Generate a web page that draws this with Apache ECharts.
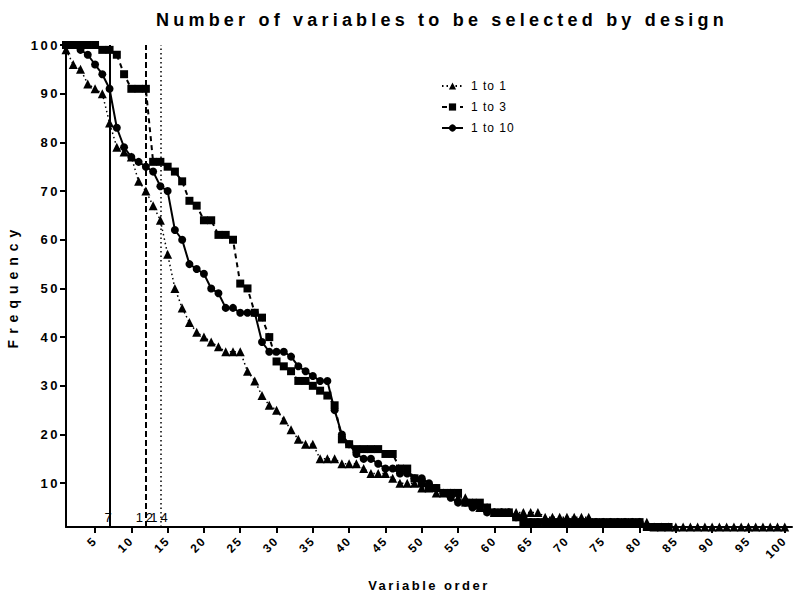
<!DOCTYPE html>
<html>
<head>
<meta charset="utf-8">
<script src="https://cdn.jsdelivr.net/npm/echarts@6/dist/echarts.min.js"></script>
<style>
html, body { margin: 0; padding: 0; background: #fff; }
#chart { width: 800px; height: 598px; }
/* wide Prism-style lettering */
#chart text[style*="18px"] { letter-spacing: 4.2px; }
#chart text[style*="bold"][style*="13px"] { letter-spacing: 2.5px; }
#chart text[style*="bold"][style*="14px"] { letter-spacing: 6px; }
#chart text[style*="bold"][style*="12px"] { letter-spacing: 1.5px; }
#chart text[style*="13px"]:not([style*="bold"]) { letter-spacing: 3px; }
#chart text[style*="12px"]:not([style*="bold"]) { letter-spacing: 1px; }
</style>
</head>
<body>
<div id="chart"></div>
<script>
// frequencies, ordered by variable (x = 1, 2, 3 ...)
var oneToOne = [
  99, 96, 95, 92, 91, 90, 84, 79, 78, 77,
  72, 70, 67, 64, 57, 50, 46, 43, 41, 40,
  39, 38, 37, 37, 37, 33, 31, 28, 26, 25,
  23, 21, 19, 18, 18, 15, 15, 15, 14, 14,
  14, 13, 12, 12, 12, 11, 10, 10, 10, 9,
  9, 8, 8, 8, 7, 7, 6, 5, 5, 4,
  4, 4, 4, 4, 4, 4, 3, 3, 3, 3,
  3, 3, 3, 2, 2, 2, 2, 2, 2, 2,
  2, 1, 1, 1, 1, 1, 1, 1, 1, 1,
  1, 1, 1, 1, 1, 1, 1, 1, 1, 1
];
var oneToThree = [
  100, 100, 100, 100, 100, 99, 99, 98, 94, 91,
  91, 91, 76, 76, 75, 74, 72, 68, 67, 64,
  64, 61, 61, 60, 51, 50, 45, 44, 40, 35,
  34, 33, 31, 31, 30, 29, 28, 26, 19, 18,
  17, 17, 17, 17, 16, 16, 13, 13, 11, 10,
  9, 9, 8, 8, 8, 6, 6, 6, 5, 4,
  4, 4, 3, 2, 2, 2, 2, 2, 2, 2,
  2, 2, 2, 2, 2, 2, 2, 2, 2, 2,
  1, 1, 1, 1
];
var oneToTen = [
  100, 100, 99, 98, 96, 94, 91, 83, 79, 77,
  76, 75, 74, 71, 70, 62, 60, 55, 54, 53,
  50, 49, 46, 46, 45, 45, 45, 39, 37, 37,
  37, 36, 34, 33, 32, 31, 31, 25, 20, 18,
  16, 15, 15, 14, 13, 13, 12, 12, 11, 11,
  10, 9, 8, 7, 6, 6, 5, 5, 4, 4,
  4, 4, 3, 3, 2, 2, 2, 2, 2, 2,
  2, 2, 2, 2, 2, 2, 2, 2, 2, 2,
  1, 1, 1, 1
];
var seriesNames = ['1 to 1', '1 to 3', '1 to 10'];
var cutoffs = [7, 12, 14];
var xTicks = [5, 10, 15, 20, 25, 30, 35, 40, 45, 50, 55, 60, 65, 70, 75, 80, 85, 90, 95, 100];
var yTicks = [10, 20, 30, 40, 50, 60, 70, 80, 90, 100];

var FONT = '"Liberation Sans", Arial, sans-serif';

function toPoints(arr) {
  return arr.map(function (v, i) { return [i + 1, v]; });
}

var chart = echarts.init(document.getElementById('chart'), null, { renderer: 'svg' });

var option = {
  backgroundColor: '#fff',
  animation: false,
  title: {
    text: 'Number of variables to be selected by design',
    left: 437,
    top: 6,
    textAlign: 'center',
    textStyle: { fontFamily: FONT, fontSize: 18, fontWeight: 'bold', color: '#000' }
  },
  legend: {
    data: seriesNames,
    orient: 'vertical',
    left: 436,
    top: 75,
    itemWidth: 21,
    itemHeight: 9,
    itemGap: 9,
    textStyle: { fontFamily: FONT, fontSize: 12, color: '#000', padding: [0, 0, 0, 3] }
  },
  grid: { left: 66, right: 8, top: 45, bottom: 71, outerBoundsMode: 'none' },
  xAxis: {
    type: 'value',
    min: 1,
    max: 101,
    name: 'Variable order',
    nameLocation: 'middle',
    nameGap: 52,
    nameTextStyle: { fontFamily: FONT, fontSize: 13, fontWeight: 'bold', color: '#000' },
    axisLine: { lineStyle: { color: '#000', width: 2 } },
    axisTick: { customValues: xTicks, length: 6, lineStyle: { color: '#000', width: 2 } },
    axisLabel: {
      customValues: xTicks,
      rotate: 45,
      margin: 12,
      fontFamily: FONT, fontSize: 12, fontWeight: 'bold', color: '#000'
    },
    splitLine: { show: false }
  },
  yAxis: {
    type: 'value',
    min: 1,
    max: 100,
    name: 'Frequency',
    nameLocation: 'middle',
    nameGap: 46,
    nameTextStyle: { fontFamily: FONT, fontSize: 14, fontWeight: 'bold', color: '#000' },
    axisLine: { show: true, lineStyle: { color: '#000', width: 2 } },
    axisTick: { show: true, customValues: yTicks, length: 6, lineStyle: { color: '#000', width: 2 } },
    axisLabel: {
      customValues: yTicks,
      margin: 6,
      fontFamily: FONT, fontSize: 13, fontWeight: 'bold', color: '#000'
    },
    splitLine: { show: false }
  },
  series: [
    {
      name: seriesNames[0],
      type: 'line',
      data: toPoints(oneToOne),
      symbol: 'triangle',
      symbolSize: 9,
      showAllSymbol: true,
      itemStyle: { color: '#000' },
      lineStyle: { color: '#000', width: 1.5, type: [1.5, 3] }
    },
    {
      name: seriesNames[1],
      type: 'line',
      data: toPoints(oneToThree),
      symbol: 'rect',
      symbolSize: 8,
      showAllSymbol: true,
      itemStyle: { color: '#000' },
      lineStyle: { color: '#000', width: 2, type: [5, 4] }
    },
    {
      name: seriesNames[2],
      type: 'line',
      data: toPoints(oneToTen),
      symbol: 'circle',
      symbolSize: 8,
      showAllSymbol: true,
      itemStyle: { color: '#000' },
      lineStyle: { color: '#000', width: 2, type: 'solid' },
      markLine: {
        silent: true,
        symbol: 'none',
        label: { show: false },
        data: [
          [{ coord: [cutoffs[0], 1], lineStyle: { color: '#000', width: 2, type: 'solid' } }, { coord: [cutoffs[0], 100] }],
          [{ coord: [cutoffs[1], 1], lineStyle: { color: '#000', width: 2, type: [6, 3] } }, { coord: [cutoffs[1], 100] }],
          [{ coord: [cutoffs[2], 1], lineStyle: { color: '#000', width: 1.5, type: [1.5, 3] } }, { coord: [cutoffs[2], 100] }]
        ]
      }
    },
    {
      name: 'cutoff',
      type: 'scatter',
      data: cutoffs.map(function (c) { return [c, 1]; }),
      symbolSize: 0,
      silent: true,
      itemStyle: { color: '#000', opacity: 1 },
      label: {
        show: true,
        position: 'top',
        distance: 3,
        formatter: function (p) { return String(p.value[0]); },
        fontFamily: FONT, fontSize: 13, color: '#000', opacity: 1
      }
    }
  ]
};

chart.setOption(option);
</script>
</body>
</html>
